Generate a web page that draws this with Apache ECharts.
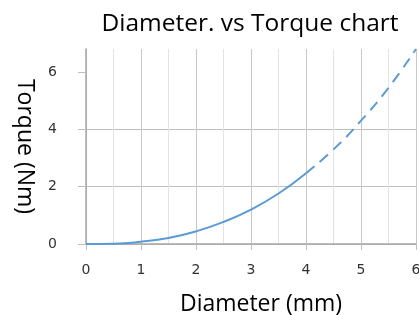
<!DOCTYPE html>
<html>
<head>
<meta charset="utf-8">
<script src="https://cdn.jsdelivr.net/npm/echarts@6/dist/echarts.min.js"></script>
<style>
  html, body { margin: 0; padding: 0; background: #fff; }
  #chart { width: 419px; height: 315px; }
</style>
</head>
<body>
<div id="chart"></div>
<script>
// values
var diameter = [0, 0.5, 1, 1.5, 2, 2.5, 3, 3.5, 4, 4.5, 5, 5.5, 6];
var torque = [0, 0.01, 0.08, 0.21, 0.44, 0.77, 1.2, 1.76, 2.47, 3.3, 4.3, 5.45, 6.8];
var solidEnd = 4; // measured part, beyond is dashed (extrapolated)
var yTicks = [0, 2, 4, 6];

var solidData = [], dashData = [];
diameter.forEach(function (d, i) {
  if (d <= solidEnd) solidData.push([d, torque[i]]);
  if (d >= solidEnd) dashData.push([d, torque[i]]);
});

var font = '"Open Sans", "Noto Sans", sans-serif';
var tickFont = '"DejaVu Sans", sans-serif';
var chart = echarts.init(document.getElementById('chart'));
chart.setOption({
  animation: false,
  title: {
    text: 'Diameter. vs Torque chart',
    left: 245,
    top: 7,
    textAlign: 'center',
    textStyle: { fontFamily: font, fontSize: 24.5, fontWeight: 'normal', color: '#000' }
  },
  grid: { left: 86, right: 3, top: 49, bottom: 71, outerBoundsMode: 'none', containLabel: false },
  xAxis: {
    type: 'value',
    min: 0,
    max: 6,
    interval: 1,
    name: 'Diameter (mm)',
    nameLocation: 'middle',
    nameGap: 49,
    nameTextStyle: { fontFamily: font, fontSize: 23, color: '#000', padding: [0, 0, 0, 20] },
    axisLine: { show: true, lineStyle: { color: '#a6a6a6', width: 1.5 } },
    axisTick: { show: true, length: 6, lineStyle: { color: '#bfbfbf' } },
    axisLabel: { fontFamily: tickFont, fontSize: 14, color: '#333', margin: 19 },
    splitLine: { show: true, lineStyle: { color: '#c8c8c8' } },
    minorTick: { show: false, splitNumber: 2 },
    minorSplitLine: { show: true, lineStyle: { color: '#e3e3e3' } }
  },
  yAxis: {
    type: 'value',
    min: 0,
    max: 6.8,
    interval: 2,
    name: 'Torque (Nm)',
    nameLocation: 'middle',
    nameRotate: -90,
    nameGap: 50,
    nameTextStyle: { fontFamily: font, fontSize: 23, color: '#000' },
    axisLine: { show: true, lineStyle: { color: '#a6a6a6', width: 1.5 } },
    axisTick: { show: true, length: 8, customValues: yTicks, lineStyle: { color: '#bfbfbf' } },
    axisLabel: { fontFamily: tickFont, fontSize: 14, color: '#333', margin: 29, customValues: yTicks },
    splitLine: { show: true, showMaxLine: false, lineStyle: { color: '#bfbfbf' } }
  },
  series: [
    {
      name: 'measured',
      type: 'line',
      data: solidData,
      smooth: true,
      showSymbol: false,
      lineStyle: { color: '#5b9bd5', width: 2 }
    },
    {
      name: 'extrapolated',
      type: 'line',
      data: dashData,
      smooth: true,
      showSymbol: false,
      lineStyle: { color: '#5b9bd5', width: 2, type: [11, 7] }
    }
  ]
});
</script>
</body>
</html>
